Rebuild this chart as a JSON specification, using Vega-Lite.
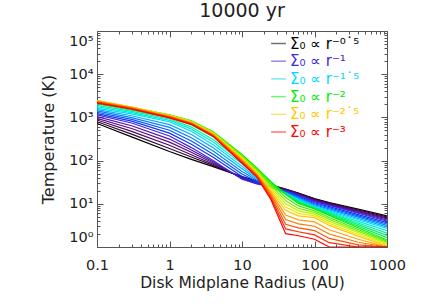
{
  "$schema": "https://vega.github.io/schema/vega-lite/v6.json",
  "width": 290,
  "height": 216,
  "autosize": {"type": "none"},
  "padding": {"left": 97, "top": 31, "right": 49, "bottom": 61},
  "background": "white",
  "config": {"view": {"stroke": "#555", "strokeWidth": 1}, "font": "DejaVu Sans"},
  "title": {"text": "10000 yr", "fontSize": 19, "font": "DejaVu Sans", "fontWeight": "normal", "color": "#222", "offset": 4},
  "data": {"values": [
    {"p":-0.5,"r":0.1,"T":724},{"p":-0.5,"r":0.3,"T":355},{"p":-0.5,"r":1,"T":162},{"p":-0.5,"r":2,"T":107},{"p":-0.5,"r":4,"T":72.4},{"p":-0.5,"r":10,"T":42.7},{"p":-0.5,"r":16,"T":33.9},{"p":-0.5,"r":25,"T":27.5},{"p":-0.5,"r":40,"T":21.9},{"p":-0.5,"r":60,"T":17.8},{"p":-0.5,"r":100,"T":13.2},{"p":-0.5,"r":160,"T":10.7},{"p":-0.5,"r":400,"T":7.5},{"p":-0.5,"r":1000,"T":5.25},
    {"p":-0.6,"r":0.1,"T":794},{"p":-0.6,"r":0.3,"T":411},{"p":-0.6,"r":1,"T":191},{"p":-0.6,"r":2,"T":121},{"p":-0.6,"r":4,"T":77.3},{"p":-0.6,"r":10,"T":41.5},{"p":-0.6,"r":16,"T":32.8},{"p":-0.6,"r":25,"T":26.9},{"p":-0.6,"r":40,"T":21.5},{"p":-0.6,"r":60,"T":17.4},{"p":-0.6,"r":100,"T":12.8},{"p":-0.6,"r":160,"T":10.4},{"p":-0.6,"r":400,"T":7.18},{"p":-0.6,"r":1000,"T":4.97},
    {"p":-0.7,"r":0.1,"T":871},{"p":-0.7,"r":0.3,"T":476},{"p":-0.7,"r":1,"T":226},{"p":-0.7,"r":2,"T":137},{"p":-0.7,"r":4,"T":82.4},{"p":-0.7,"r":10,"T":40.4},{"p":-0.7,"r":16,"T":31.8},{"p":-0.7,"r":25,"T":26.3},{"p":-0.7,"r":40,"T":21.1},{"p":-0.7,"r":60,"T":17.0},{"p":-0.7,"r":100,"T":12.4},{"p":-0.7,"r":160,"T":10.0},{"p":-0.7,"r":400,"T":6.87},{"p":-0.7,"r":1000,"T":4.7},
    {"p":-0.8,"r":0.1,"T":955},{"p":-0.8,"r":0.3,"T":552},{"p":-0.8,"r":1,"T":267},{"p":-0.8,"r":2,"T":156},{"p":-0.8,"r":4,"T":87.9},{"p":-0.8,"r":10,"T":39.3},{"p":-0.8,"r":16,"T":30.8},{"p":-0.8,"r":25,"T":25.7},{"p":-0.8,"r":40,"T":20.7},{"p":-0.8,"r":60,"T":16.6},{"p":-0.8,"r":100,"T":12.0},{"p":-0.8,"r":160,"T":9.72},{"p":-0.8,"r":400,"T":6.58},{"p":-0.8,"r":1000,"T":4.45},
    {"p":-0.9,"r":0.1,"T":1047},{"p":-0.9,"r":0.3,"T":640},{"p":-0.9,"r":1,"T":315},{"p":-0.9,"r":2,"T":176},{"p":-0.9,"r":4,"T":93.8},{"p":-0.9,"r":10,"T":38.2},{"p":-0.9,"r":16,"T":29.8},{"p":-0.9,"r":25,"T":25.1},{"p":-0.9,"r":40,"T":20.3},{"p":-0.9,"r":60,"T":16.2},{"p":-0.9,"r":100,"T":11.6},{"p":-0.9,"r":160,"T":9.42},{"p":-0.9,"r":400,"T":6.3},{"p":-0.9,"r":1000,"T":4.21},
    {"p":-1.0,"r":0.1,"T":1148},{"p":-1.0,"r":0.3,"T":741},{"p":-1.0,"r":1,"T":372},{"p":-1.0,"r":2,"T":200},{"p":-1.0,"r":4,"T":100},{"p":-1.0,"r":10,"T":37.2},{"p":-1.0,"r":16,"T":28.8},{"p":-1.0,"r":25,"T":24.5},{"p":-1.0,"r":40,"T":20.0},{"p":-1.0,"r":60,"T":15.8},{"p":-1.0,"r":100,"T":11.2},{"p":-1.0,"r":160,"T":9.12},{"p":-1.0,"r":400,"T":6.03},{"p":-1.0,"r":1000,"T":3.98},
    {"p":-1.1,"r":0.1,"T":1230},{"p":-1.1,"r":0.3,"T":817},{"p":-1.1,"r":1,"T":433},{"p":-1.1,"r":2,"T":238},{"p":-1.1,"r":4,"T":119},{"p":-1.1,"r":10,"T":42.7},{"p":-1.1,"r":16,"T":30.8},{"p":-1.1,"r":25,"T":24.7},{"p":-1.1,"r":40,"T":19.4},{"p":-1.1,"r":60,"T":15.1},{"p":-1.1,"r":100,"T":10.6},{"p":-1.1,"r":160,"T":8.59},{"p":-1.1,"r":400,"T":5.62},{"p":-1.1,"r":1000,"T":3.68},
    {"p":-1.2,"r":0.1,"T":1318},{"p":-1.2,"r":0.3,"T":899},{"p":-1.2,"r":1,"T":504},{"p":-1.2,"r":2,"T":283},{"p":-1.2,"r":4,"T":141},{"p":-1.2,"r":10,"T":49.0},{"p":-1.2,"r":16,"T":32.8},{"p":-1.2,"r":25,"T":24.8},{"p":-1.2,"r":40,"T":18.9},{"p":-1.2,"r":60,"T":14.5},{"p":-1.2,"r":100,"T":10.0},{"p":-1.2,"r":160,"T":8.09},{"p":-1.2,"r":400,"T":5.25},{"p":-1.2,"r":1000,"T":3.4},
    {"p":-1.3,"r":0.1,"T":1413},{"p":-1.3,"r":0.3,"T":991},{"p":-1.3,"r":1,"T":586},{"p":-1.3,"r":2,"T":337},{"p":-1.3,"r":4,"T":167},{"p":-1.3,"r":10,"T":56.2},{"p":-1.3,"r":16,"T":35.0},{"p":-1.3,"r":25,"T":24.9},{"p":-1.3,"r":40,"T":18.4},{"p":-1.3,"r":60,"T":13.8},{"p":-1.3,"r":100,"T":9.51},{"p":-1.3,"r":160,"T":7.62},{"p":-1.3,"r":400,"T":4.9},{"p":-1.3,"r":1000,"T":3.15},
    {"p":-1.4,"r":0.1,"T":1514},{"p":-1.4,"r":0.3,"T":1091},{"p":-1.4,"r":1,"T":682},{"p":-1.4,"r":2,"T":402},{"p":-1.4,"r":4,"T":198},{"p":-1.4,"r":10,"T":64.6},{"p":-1.4,"r":16,"T":37.3},{"p":-1.4,"r":25,"T":25.0},{"p":-1.4,"r":40,"T":17.9},{"p":-1.4,"r":60,"T":13.2},{"p":-1.4,"r":100,"T":8.99},{"p":-1.4,"r":160,"T":7.18},{"p":-1.4,"r":400,"T":4.57},{"p":-1.4,"r":1000,"T":2.91},
    {"p":-1.5,"r":0.1,"T":1622},{"p":-1.5,"r":0.3,"T":1202},{"p":-1.5,"r":1,"T":794},{"p":-1.5,"r":2,"T":479},{"p":-1.5,"r":4,"T":234},{"p":-1.5,"r":10,"T":74.1},{"p":-1.5,"r":16,"T":39.8},{"p":-1.5,"r":25,"T":25.1},{"p":-1.5,"r":40,"T":17.4},{"p":-1.5,"r":60,"T":12.6},{"p":-1.5,"r":100,"T":8.51},{"p":-1.5,"r":160,"T":6.76},{"p":-1.5,"r":400,"T":4.27},{"p":-1.5,"r":1000,"T":2.69},
    {"p":-1.6,"r":0.1,"T":1754},{"p":-1.6,"r":0.3,"T":1288},{"p":-1.6,"r":1,"T":855},{"p":-1.6,"r":2,"T":535},{"p":-1.6,"r":4,"T":269},{"p":-1.6,"r":10,"T":83.9},{"p":-1.6,"r":16,"T":44.3},{"p":-1.6,"r":25,"T":26.5},{"p":-1.6,"r":40,"T":17.2},{"p":-1.6,"r":60,"T":12.1},{"p":-1.6,"r":100,"T":8.32},{"p":-1.6,"r":160,"T":6.46},{"p":-1.6,"r":400,"T":3.92},{"p":-1.6,"r":1000,"T":2.38},
    {"p":-1.7,"r":0.1,"T":1897},{"p":-1.7,"r":0.3,"T":1380},{"p":-1.7,"r":1,"T":920},{"p":-1.7,"r":2,"T":597},{"p":-1.7,"r":4,"T":309},{"p":-1.7,"r":10,"T":95.1},{"p":-1.7,"r":16,"T":49.2},{"p":-1.7,"r":25,"T":28.1},{"p":-1.7,"r":40,"T":17.1},{"p":-1.7,"r":60,"T":11.6},{"p":-1.7,"r":100,"T":8.13},{"p":-1.7,"r":160,"T":6.17},{"p":-1.7,"r":400,"T":3.6},{"p":-1.7,"r":1000,"T":2.1},
    {"p":-1.8,"r":0.1,"T":2051},{"p":-1.8,"r":0.3,"T":1479},{"p":-1.8,"r":1,"T":991},{"p":-1.8,"r":2,"T":667},{"p":-1.8,"r":4,"T":355},{"p":-1.8,"r":10,"T":108},{"p":-1.8,"r":16,"T":54.7},{"p":-1.8,"r":25,"T":29.6},{"p":-1.8,"r":40,"T":16.9},{"p":-1.8,"r":60,"T":11.1},{"p":-1.8,"r":100,"T":7.94},{"p":-1.8,"r":160,"T":5.89},{"p":-1.8,"r":400,"T":3.3},{"p":-1.8,"r":1000,"T":1.85},
    {"p":-1.9,"r":0.1,"T":2218},{"p":-1.9,"r":0.3,"T":1585},{"p":-1.9,"r":1,"T":1067},{"p":-1.9,"r":2,"T":745},{"p":-1.9,"r":4,"T":407},{"p":-1.9,"r":10,"T":122},{"p":-1.9,"r":16,"T":60.8},{"p":-1.9,"r":25,"T":31.3},{"p":-1.9,"r":40,"T":16.7},{"p":-1.9,"r":60,"T":10.7},{"p":-1.9,"r":100,"T":7.76},{"p":-1.9,"r":160,"T":5.62},{"p":-1.9,"r":400,"T":3.03},{"p":-1.9,"r":1000,"T":1.64},
    {"p":-2.0,"r":0.1,"T":2399},{"p":-2.0,"r":0.3,"T":1698},{"p":-2.0,"r":1,"T":1148},{"p":-2.0,"r":2,"T":832},{"p":-2.0,"r":4,"T":468},{"p":-2.0,"r":10,"T":138},{"p":-2.0,"r":16,"T":67.6},{"p":-2.0,"r":25,"T":33.1},{"p":-2.0,"r":40,"T":16.6},{"p":-2.0,"r":60,"T":10.2},{"p":-2.0,"r":100,"T":7.59},{"p":-2.0,"r":160,"T":5.37},{"p":-2.0,"r":400,"T":2.79},{"p":-2.0,"r":1000,"T":1.45},
    {"p":-2.1,"r":0.1,"T":2410},{"p":-2.1,"r":0.3,"T":1706},{"p":-2.1,"r":1,"T":1138},{"p":-2.1,"r":2,"T":820},{"p":-2.1,"r":4,"T":457},{"p":-2.1,"r":10,"T":132},{"p":-2.1,"r":16,"T":63.7},{"p":-2.1,"r":25,"T":29.9},{"p":-2.1,"r":40,"T":14.0},{"p":-2.1,"r":60,"T":8.95},{"p":-2.1,"r":100,"T":6.92},{"p":-2.1,"r":160,"T":4.83},{"p":-2.1,"r":400,"T":2.55},{"p":-2.1,"r":1000,"T":1.36},
    {"p":-2.2,"r":0.1,"T":2421},{"p":-2.2,"r":0.3,"T":1714},{"p":-2.2,"r":1,"T":1127},{"p":-2.2,"r":2,"T":809},{"p":-2.2,"r":4,"T":447},{"p":-2.2,"r":10,"T":126},{"p":-2.2,"r":16,"T":60.0},{"p":-2.2,"r":25,"T":27.0},{"p":-2.2,"r":40,"T":11.8},{"p":-2.2,"r":60,"T":7.83},{"p":-2.2,"r":100,"T":6.31},{"p":-2.2,"r":160,"T":4.35},{"p":-2.2,"r":400,"T":2.33},{"p":-2.2,"r":1000,"T":1.27},
    {"p":-2.3,"r":0.1,"T":2432},{"p":-2.3,"r":0.3,"T":1722},{"p":-2.3,"r":1,"T":1117},{"p":-2.3,"r":2,"T":798},{"p":-2.3,"r":4,"T":437},{"p":-2.3,"r":10,"T":120},{"p":-2.3,"r":16,"T":56.5},{"p":-2.3,"r":25,"T":24.4},{"p":-2.3,"r":40,"T":9.95},{"p":-2.3,"r":60,"T":6.85},{"p":-2.3,"r":100,"T":5.75},{"p":-2.3,"r":160,"T":3.91},{"p":-2.3,"r":400,"T":2.13},{"p":-2.3,"r":1000,"T":1.19},
    {"p":-2.4,"r":0.1,"T":2443},{"p":-2.4,"r":0.3,"T":1730},{"p":-2.4,"r":1,"T":1107},{"p":-2.4,"r":2,"T":787},{"p":-2.4,"r":4,"T":427},{"p":-2.4,"r":10,"T":115},{"p":-2.4,"r":16,"T":53.2},{"p":-2.4,"r":25,"T":22.1},{"p":-2.4,"r":40,"T":8.39},{"p":-2.4,"r":60,"T":6.0},{"p":-2.4,"r":100,"T":5.25},{"p":-2.4,"r":160,"T":3.52},{"p":-2.4,"r":400,"T":1.95},{"p":-2.4,"r":1000,"T":1.12},
    {"p":-2.5,"r":0.1,"T":2455},{"p":-2.5,"r":0.3,"T":1738},{"p":-2.5,"r":1,"T":1096},{"p":-2.5,"r":2,"T":776},{"p":-2.5,"r":4,"T":417},{"p":-2.5,"r":10,"T":110},{"p":-2.5,"r":16,"T":50.1},{"p":-2.5,"r":25,"T":20.0},{"p":-2.5,"r":40,"T":7.08},{"p":-2.5,"r":60,"T":5.25},{"p":-2.5,"r":100,"T":4.79},{"p":-2.5,"r":160,"T":3.16},{"p":-2.5,"r":400,"T":1.78},{"p":-2.5,"r":1000,"T":1.05},
    {"p":-2.6,"r":0.1,"T":2388},{"p":-2.6,"r":0.3,"T":1698},{"p":-2.6,"r":1,"T":1072},{"p":-2.6,"r":2,"T":759},{"p":-2.6,"r":4,"T":406},{"p":-2.6,"r":10,"T":105},{"p":-2.6,"r":16,"T":48.3},{"p":-2.6,"r":25,"T":18.2},{"p":-2.6,"r":40,"T":5.52},{"p":-2.6,"r":60,"T":4.25},{"p":-2.6,"r":100,"T":3.8},{"p":-2.6,"r":160,"T":2.51},{"p":-2.6,"r":400,"T":1.51},{"p":-2.6,"r":1000,"T":1},
    {"p":-2.7,"r":0.1,"T":2323},{"p":-2.7,"r":0.3,"T":1660},{"p":-2.7,"r":1,"T":1047},{"p":-2.7,"r":2,"T":741},{"p":-2.7,"r":4,"T":394},{"p":-2.7,"r":10,"T":100},{"p":-2.7,"r":16,"T":46.6},{"p":-2.7,"r":25,"T":16.6},{"p":-2.7,"r":40,"T":4.31},{"p":-2.7,"r":60,"T":3.44},{"p":-2.7,"r":100,"T":3.02},{"p":-2.7,"r":160,"T":2.0},{"p":-2.7,"r":400,"T":1.29},{"p":-2.7,"r":1000,"T":1},
    {"p":-2.8,"r":0.1,"T":2259},{"p":-2.8,"r":0.3,"T":1622},{"p":-2.8,"r":1,"T":1023},{"p":-2.8,"r":2,"T":724},{"p":-2.8,"r":4,"T":384},{"p":-2.8,"r":10,"T":95.5},{"p":-2.8,"r":16,"T":44.9},{"p":-2.8,"r":25,"T":15.1},{"p":-2.8,"r":40,"T":3.36},{"p":-2.8,"r":60,"T":2.78},{"p":-2.8,"r":100,"T":2.4},{"p":-2.8,"r":160,"T":1.58},{"p":-2.8,"r":400,"T":1.12},{"p":-2.8,"r":1000,"T":1},
    {"p":-2.9,"r":0.1,"T":2198},{"p":-2.9,"r":0.3,"T":1585},{"p":-2.9,"r":1,"T":1000},{"p":-2.9,"r":2,"T":708},{"p":-2.9,"r":4,"T":373},{"p":-2.9,"r":10,"T":91.2},{"p":-2.9,"r":16,"T":43.3},{"p":-2.9,"r":25,"T":13.8},{"p":-2.9,"r":40,"T":2.62},{"p":-2.9,"r":60,"T":2.25},{"p":-2.9,"r":100,"T":1.91},{"p":-2.9,"r":160,"T":1.26},{"p":-2.9,"r":400,"T":1},{"p":-2.9,"r":1000,"T":1},
    {"p":-3.0,"r":0.1,"T":2138},{"p":-3.0,"r":0.3,"T":1549},{"p":-3.0,"r":1,"T":977},{"p":-3.0,"r":2,"T":692},{"p":-3.0,"r":4,"T":363},{"p":-3.0,"r":10,"T":87.1},{"p":-3.0,"r":16,"T":41.7},{"p":-3.0,"r":25,"T":12.6},{"p":-3.0,"r":40,"T":2.04},{"p":-3.0,"r":60,"T":1.82},{"p":-3.0,"r":100,"T":1.51},{"p":-3.0,"r":160,"T":1},{"p":-3.0,"r":400,"T":1},{"p":-3.0,"r":1000,"T":1}
  ]},
  "resolve": {"axis": {"x": "independent", "y": "independent"}},
  "layer": [
    {
      "mark": {"type": "line", "strokeWidth": 1.2, "clip": true},
      "encoding": {
        "x": {"field": "r", "type": "quantitative",
          "scale": {"type": "log", "domain": [0.1, 1000], "nice": false},
          "axis": {"orient": "bottom", "title": "Disk Midplane Radius (AU)",
            "values": [0.1,0.2,0.3,0.4,0.5,0.6,0.7,0.8,0.9,1,2,3,4,5,6,7,8,9,10,20,30,40,50,60,70,80,90,100,200,300,400,500,600,700,800,900,1000],
            "format": "~g",
            "labelExpr": "indexof([0.1,1,10,100,1000], datum.value) >= 0 ? datum.label : ''",
            "tickSize": {"condition": {"test": "indexof([0.1,1,10,100,1000], datum.value) >= 0", "value": -6}, "value": -3},
            "tickColor": "#555", "domain": false, "grid": false, "labelOverlap": false, "labelFlush": false,
            "labelFont": "DejaVu Sans", "labelFontSize": 14.5, "labelColor": "#222", "labelPadding": 17,
            "titleFont": "DejaVu Sans", "titleFontSize": 15.5, "titleFontWeight": "normal", "titleColor": "#222", "titlePadding": 1}},
        "y": {"field": "T", "type": "quantitative",
          "scale": {"type": "log", "domain": [1, 100000], "nice": false},
          "axis": {"orient": "left", "title": "Temperature (K)",
            "values": [1,2,3,4,5,6,7,8,9,10,20,30,40,50,60,70,80,90,100,200,300,400,500,600,700,800,900,1000,2000,3000,4000,5000,6000,7000,8000,9000,10000,20000,30000,40000,50000,60000,70000,80000,90000,100000],
            "labelExpr": "datum.value == 1 ? '10⁰' : datum.value == 10 ? '10¹' : datum.value == 100 ? '10²' : datum.value == 1000 ? '10³' : datum.value == 10000 ? '10⁴' : datum.value == 100000 ? '10⁵' : ''",
            "tickSize": {"condition": {"test": "indexof([1,10,100,1000,10000,100000], datum.value) >= 0", "value": -6}, "value": -3},
            "tickColor": "#555", "domain": false, "grid": false, "labelOverlap": false, "labelFlush": true, "labelFlushOffset": -3,
            "labelFont": "DejaVu Sans", "labelFontSize": 14.5, "labelColor": "#222", "labelPadding": 10,
            "titleFont": "DejaVu Sans", "titleFontSize": 16, "titleFontWeight": "normal", "titleColor": "#222", "titlePadding": 12}},
        "color": {"field": "p", "type": "nominal",
          "scale": {"domain": [-0.5,-0.6,-0.7,-0.8,-0.9,-1.0,-1.1,-1.2,-1.3,-1.4,-1.5,-1.6,-1.7,-1.8,-1.9,-2.0,-2.1,-2.2,-2.3,-2.4,-2.5,-2.6,-2.7,-2.8,-2.9,-3.0],
            "range": ["#000000","#2a0a33","#4b0a5e","#5e0a88","#5510b0","#3a2ad8","#1530ff","#0055ff","#0080ff","#00aaff","#00d8ff","#00ecd8","#00f0a0","#00f070","#00ee40","#00ee00","#40f000","#80f000","#bff000","#f0e800","#ffc800","#ffa000","#ff7800","#ff5000","#ff2800","#ff0000"]},
          "legend": {"orient": "none", "legendX": 173, "legendY": 4, "title": null,
            "values": [-0.5,-1,-1.5,-2,-2.5,-3],
            "symbolType": "stroke", "symbolStrokeWidth": 1.5, "symbolSize": 220, "symbolOpacity": 0.55,
            "labelFont": "DejaVu Sans", "labelFontSize": 15, "labelOffset": 3, "rowPadding": 0.7,
            "labelExpr": "'Σ₀  ∝  r' + (datum.value == -0.5 ? '⁻⁰˙⁵' : datum.value == -1 ? '⁻¹' : datum.value == -1.5 ? '⁻¹˙⁵' : datum.value == -2 ? '⁻²' : datum.value == -2.5 ? '⁻²˙⁵' : '⁻³')",
            "encode": {"labels": {"update": {"fill": {"scale": "color", "field": "value"}}}}}}
      }
    },
    {
      "mark": {"type": "line", "opacity": 0},
      "encoding": {
        "detail": {"field": "p", "type": "nominal"},
        "x": {"field": "r", "type": "quantitative",
          "axis": {"orient": "top", "title": null, "labels": false,
            "values": [0.1,0.2,0.3,0.4,0.5,0.6,0.7,0.8,0.9,1,2,3,4,5,6,7,8,9,10,20,30,40,50,60,70,80,90,100,200,300,400,500,600,700,800,900,1000],
            "tickSize": {"condition": {"test": "indexof([0.1,1,10,100,1000], datum.value) >= 0", "value": -6}, "value": -3},
            "tickColor": "#555", "domain": false, "grid": false}},
        "y": {"field": "T", "type": "quantitative",
          "axis": {"orient": "right", "title": null, "labels": false,
            "values": [1,2,3,4,5,6,7,8,9,10,20,30,40,50,60,70,80,90,100,200,300,400,500,600,700,800,900,1000,2000,3000,4000,5000,6000,7000,8000,9000,10000,20000,30000,40000,50000,60000,70000,80000,90000,100000],
            "tickSize": {"condition": {"test": "indexof([1,10,100,1000,10000,100000], datum.value) >= 0", "value": -6}, "value": -3},
            "tickColor": "#555", "domain": false, "grid": false}}
      }
    }
  ]
}
